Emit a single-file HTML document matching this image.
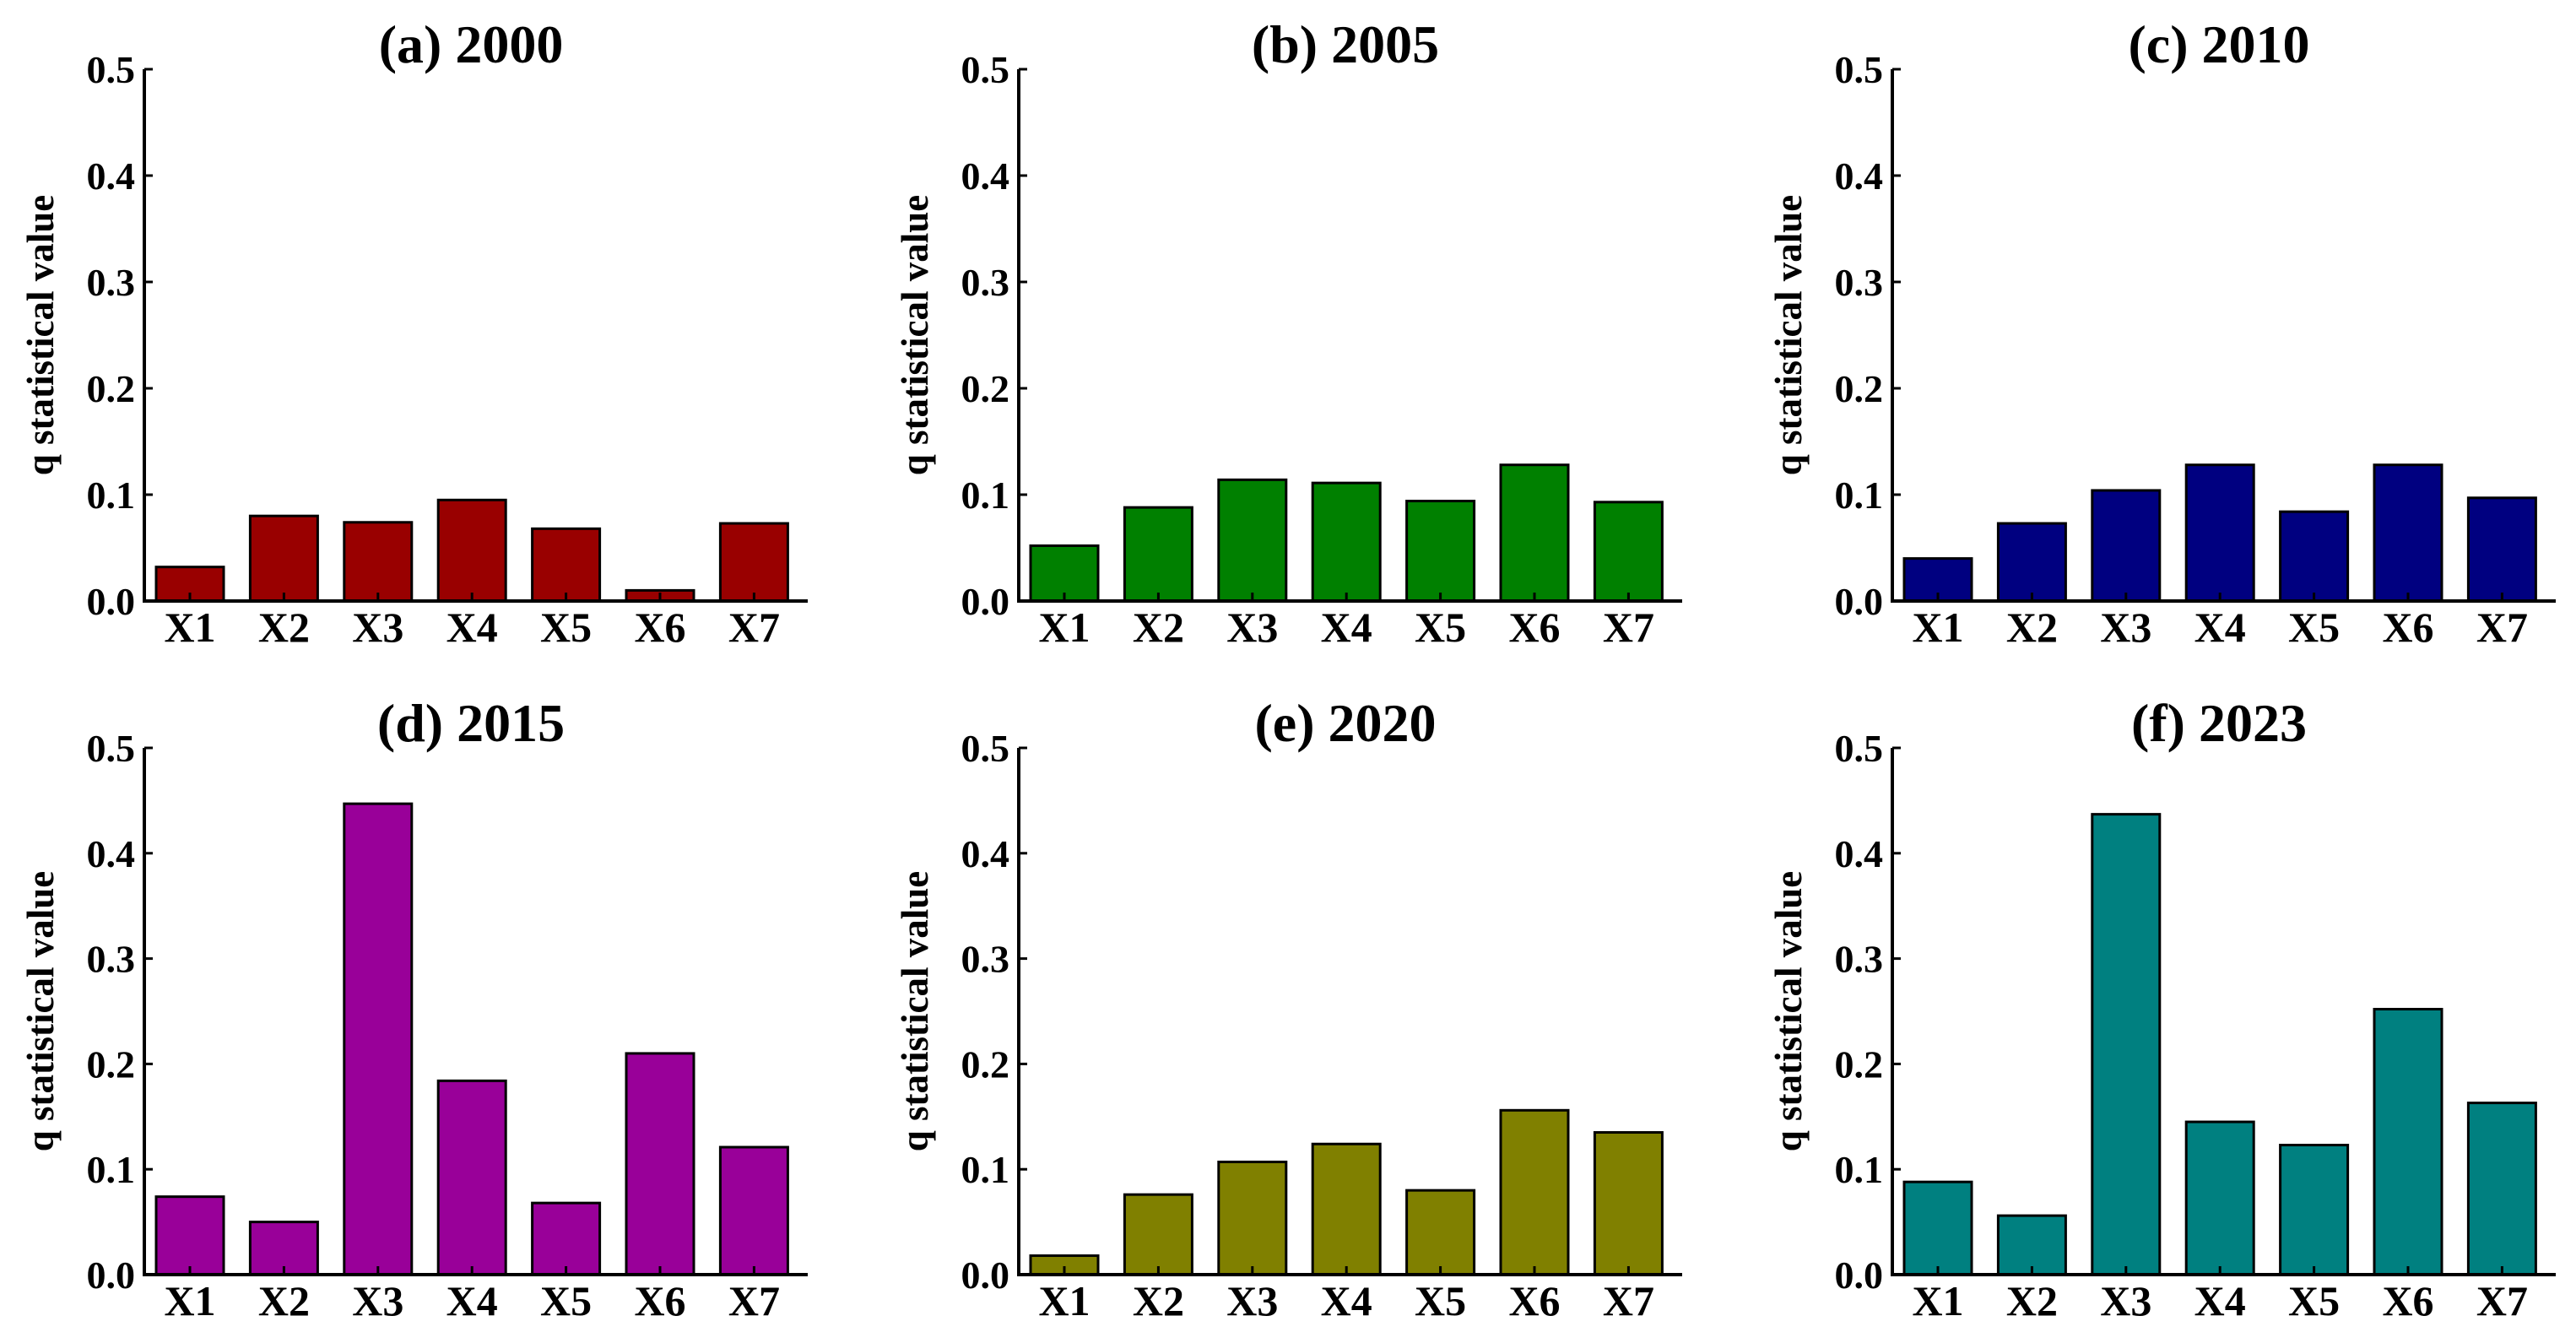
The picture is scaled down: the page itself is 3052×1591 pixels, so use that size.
<!DOCTYPE html>
<html><head><meta charset="utf-8"><style>body{margin:0;background:#fff}svg{display:block}text{font-family:"Liberation Serif",serif;font-weight:bold;fill:#000}</style></head>
<body>
<svg id="chart" width="3052" height="1591" viewBox="0 0 3052 1591" xmlns="http://www.w3.org/2000/svg"></svg>
<script>
const categories = ["X1","X2","X3","X4","X5","X6","X7"];
const panelTitles = ["(a) 2000","(b) 2005","(c) 2010","(d) 2015","(e) 2020","(f) 2023"];
const values2000 = [0.032,0.080,0.074,0.095,0.068,0.010,0.073];
const values2005 = [0.052,0.088,0.114,0.111,0.094,0.128,0.093];
const values2010 = [0.040,0.073,0.104,0.128,0.084,0.128,0.097];
const values2015 = [0.074,0.050,0.447,0.184,0.068,0.210,0.121];
const values2020 = [0.018,0.076,0.107,0.124,0.080,0.156,0.135];
const values2023 = [0.088,0.056,0.437,0.145,0.123,0.252,0.163];
const yTicks = [0.0,0.1,0.2,0.3,0.4,0.5];
const yTickLabels = ["0.0","0.1","0.2","0.3","0.4","0.5"];

const series=[values2000,values2005,values2010,values2015,values2020,values2023];
const colors=["#990000","#008000","#000080","#990099","#808000","#008080"];
const svgEl=document.getElementById('chart');
const NS="http://www.w3.org/2000/svg";
function mk(tag,attrs,parent){const e=document.createElementNS(NS,tag);for(const k in attrs)e.setAttribute(k,attrs[k]);(parent||svgEl).appendChild(e);return e;}
const axX=[171,1207,2242], topY=[82,886], baseY=[712,1510];
const axisLen=786, pitch=111.4, barW=80, off=14;
series.forEach((vals,p)=>{
  const col=p%3,row=Math.floor(p/3);
  const x0=axX[col],yT=topY[row],yB=baseY[row];
  const y=v=>yB-(v/0.5)*(yB-yT);
  const xc=i=>x0+off+barW/2+i*pitch;
  const g=mk('g',{});
  
  
  const t=mk('text',{x:x0+387,y:yT-8,'font-size':64,'text-anchor':'middle'},g);
  t.textContent=panelTitles[p];
  
  
  vals.forEach((v,i)=>{
    const r=mk('rect',{x:xc(i)-barW/2,y:y(v),width:barW,height:yB-y(v),fill:colors[p],stroke:'#000','stroke-width':3},g);
    
    
    const tk=mk('line',{x1:xc(i),x2:xc(i),y1:yB,y2:yB-10,stroke:'#000','stroke-width':3},g);
    
    
    const l=mk('text',{x:xc(i),y:yB+48,'font-size':50,'text-anchor':'middle'},g);
    l.textContent=categories[i];
    
    
  });
  const ax=mk('path',{d:`M${x0},${yT} V${yB} H${x0+axisLen}`,fill:'none',stroke:'#000','stroke-width':4},g);
  
  
  yTicks.forEach((v,i)=>{
    const tk=mk('line',{x1:x0,x2:x0+10,y1:y(v),y2:y(v),stroke:'#000','stroke-width':3},g);
    
    
    const l=mk('text',{x:x0-11,y:y(v)+16,'font-size':46,'text-anchor':'end'},g);
    l.textContent=yTickLabels[i];
    
    
  });
  const cy=(yT+yB)/2;
  const yl=mk('text',{x:x0-108,y:cy,'font-size':45,'text-anchor':'middle',transform:`rotate(-90 ${x0-108} ${cy})`},g);
  yl.textContent='q statistical value';
  
  
});
</script>
</body></html>
